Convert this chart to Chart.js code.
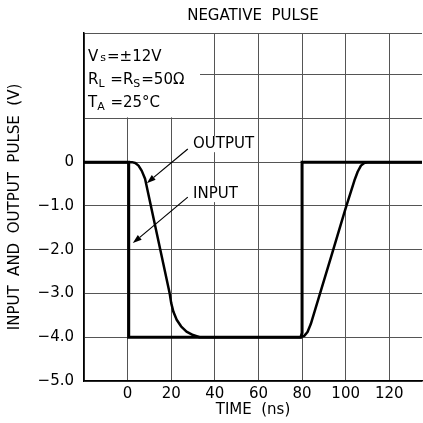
<!DOCTYPE html>
<html>
<head>
<meta charset="utf-8">
<script src="https://cdn.jsdelivr.net/npm/chart.js@4.4.1/dist/chart.umd.min.js"></script>
<style>
  body { margin: 0; background: #fff; }
  #wrap { width: 423px; height: 423px; }
</style>
</head>
<body>
<div id="wrap"><canvas id="pulseChart"></canvas></div>
<script>
// data
const inputTime  = [-20, 0.5, 0.5, 79.5, 80, 80, 135];
const inputVolts = [0, 0, -4, -4, -3.9, 0, 0];

const outputTime  = [-20, 2, 3.5, 5, 6.5, 8, 19.3, 20, 21, 22.5, 24.5, 27, 30, 33, 79, 81, 82.5, 84, 94, 100, 104, 105.5, 107, 108.5, 110.5, 135];
const outputVolts = [0, 0, -0.02, -0.08, -0.2, -0.38, -3.0, -3.22, -3.42, -3.6, -3.75, -3.87, -3.95, -4, -4, -3.97, -3.88, -3.7, -2.05, -1.05, -0.42, -0.22, -0.08, -0.02, 0, 0];

const xGridValues = [-20, 0, 20, 40, 60, 80, 100, 120];
const xTickLabels = [0, 20, 40, 60, 80, 100, 120];
const yTickLabels = [0, -1, -2, -3, -4, -5];

const labels = [
  { text: 'OUTPUT', x: 30, y: 0.41, arrowFrom: [27.6, 0.3], arrowTo: [8.8, -0.48] },
  { text: 'INPUT',  x: 30, y: -0.73, arrowFrom: [27.6, -0.8], arrowTo: [2.4, -1.85] }
];

const FONT = '"DejaVu Sans", sans-serif';

function toPoints(xs, ys) {
  return xs.map((x, i) => ({ x: x, y: ys[i] }));
}

function arrow(ctx, x1, y1, x2, y2) {
  const a = Math.atan2(y2 - y1, x2 - x1);
  const len = 9, w = 3;
  ctx.beginPath();
  ctx.moveTo(x1, y1);
  ctx.lineTo(x2 - Math.cos(a) * len, y2 - Math.sin(a) * len);
  ctx.stroke();
  ctx.beginPath();
  ctx.moveTo(x2, y2);
  ctx.lineTo(x2 - Math.cos(a) * len - Math.sin(a) * w, y2 - Math.sin(a) * len + Math.cos(a) * w);
  ctx.lineTo(x2 - Math.cos(a) * len + Math.sin(a) * w, y2 - Math.sin(a) * len - Math.cos(a) * w);
  ctx.closePath();
  ctx.fill();
}

// conditions box in the top-left corner + chart title
const boxPlugin = {
  id: 'boxPlugin',
  beforeDatasetsDraw(chart) {
    const { ctx, chartArea, scales } = chart;
    const xs = scales.x, ys = scales.y;
    ctx.save();
    ctx.fillStyle = '#fff';
    const right = xs.getPixelForValue(33.2);
    const bottom = ys.getPixelForValue(1) - 1;
    ctx.fillRect(chartArea.left + 1, chartArea.top + 1, right - chartArea.left - 1, bottom - chartArea.top - 1);

    ctx.fillStyle = '#000';
    ctx.textBaseline = 'alphabetic';
    ctx.textAlign = 'left';
    const main = '15px ' + FONT, sub = '11px ' + FONT;
    const parts = [
      [['V', 0], ['s', 0, true], ['=±12V', 0]],
      [['R', 0], ['L', 3, true], [' =R', 0], ['S', 3, true], ['=50Ω', 0]],
      [['T', 0], ['A', 3, true], [' =25°C', 0]]
    ];
    const baselines = [61, 84, 107];
    parts.forEach((line, i) => {
      let x = chartArea.left + 4;
      const y = chartArea.top + baselines[i] - 33;
      line.forEach(p => {
        ctx.font = p[2] ? sub : main;
        if (p[2] && p[1] === 0) x += 2;
        ctx.fillText(p[0], x, y + p[1]);
        x += ctx.measureText(p[0]).width + (p[2] ? 1 : 0);
      });
    });

    ctx.font = '15px ' + FONT;
    ctx.textAlign = 'center';
    ctx.fillText('NEGATIVE  PULSE', (chartArea.left + chartArea.right) / 2, 20);
    ctx.restore();
  },
  afterDatasetsDraw(chart) {
    const { ctx, scales } = chart;
    const xs = scales.x, ys = scales.y;
    ctx.save();
    ctx.font = '15px ' + FONT;
    ctx.textBaseline = 'middle';
    ctx.textAlign = 'left';
    labels.forEach(l => {
      const px = xs.getPixelForValue(l.x), py = ys.getPixelForValue(l.y);
      const w = ctx.measureText(l.text).width;
      ctx.fillStyle = '#fff';
      ctx.fillRect(px - 1, py - 8, w + 2, 16);
      ctx.fillStyle = '#000';
      ctx.fillText(l.text, px, py);
      ctx.strokeStyle = '#000';
      ctx.lineWidth = 1.2;
      arrow(ctx,
        xs.getPixelForValue(l.arrowFrom[0]), ys.getPixelForValue(l.arrowFrom[1]),
        xs.getPixelForValue(l.arrowTo[0]), ys.getPixelForValue(l.arrowTo[1]));
    });
    ctx.restore();
  }
};

new Chart(document.getElementById('pulseChart'), {
  type: 'line',
  data: {
    datasets: [
      {
        label: 'INPUT',
        data: toPoints(inputTime, inputVolts),
        borderColor: '#000',
        borderWidth: 3,
        pointRadius: 0,
        tension: 0,
        fill: false
      },
      {
        label: 'OUTPUT',
        data: toPoints(outputTime, outputVolts),
        borderColor: '#000',
        borderWidth: 2.5,
        pointRadius: 0,
        tension: 0,
        borderJoinStyle: 'round',
        fill: false
      }
    ]
  },
  options: {
    responsive: true,
    maintainAspectRatio: false,
    animation: false,
    layout: { padding: { top: 33, right: 1, left: 0, bottom: 0 } },
    plugins: {
      legend: { display: false },
      tooltip: { enabled: false },
      title: { display: false }
    },
    scales: {
      x: {
        type: 'linear',
        min: -20,
        max: 135,
        afterFit: s => { s.height = 42; },
        afterBuildTicks: s => { s.ticks = xGridValues.map(v => ({ value: v })); },
        ticks: {
          padding: 4,
          color: '#000',
          font: { family: FONT, size: 15 },
          maxRotation: 0,
          autoSkip: false,
          callback: v => xTickLabels.includes(v) ? String(v) : ''
        },
        grid: { color: '#555', lineWidth: 1, drawTicks: false },
        border: { color: '#000', width: 1.5 },
        title: {
          display: true,
          text: 'TIME  (ns)',
          color: '#000',
          font: { family: FONT, size: 15 },
          padding: { top: 0, bottom: 4 }
        }
      },
      y: {
        type: 'linear',
        min: -5,
        max: 2.95,
        afterFit: s => { s.width = 84; },
        ticks: {
          stepSize: 1,
          padding: 10,
          color: '#000',
          font: { family: FONT, size: 15 },
          autoSkip: false,
          callback: v => yTickLabels.includes(v) ? (v === 0 ? '0' : '\u2212' + Math.abs(v).toFixed(1)) : ''
        },
        grid: { color: '#555', lineWidth: 1, drawTicks: false },
        border: { color: '#000', width: 1.5 },
        title: {
          display: true,
          text: 'INPUT  AND  OUTPUT  PULSE  (V)',
          color: '#000',
          font: { family: FONT, size: 15 },
          padding: { top: 6, bottom: 0 }
        }
      }
    }
  },
  plugins: [boxPlugin]
});
</script>
</body>
</html>
